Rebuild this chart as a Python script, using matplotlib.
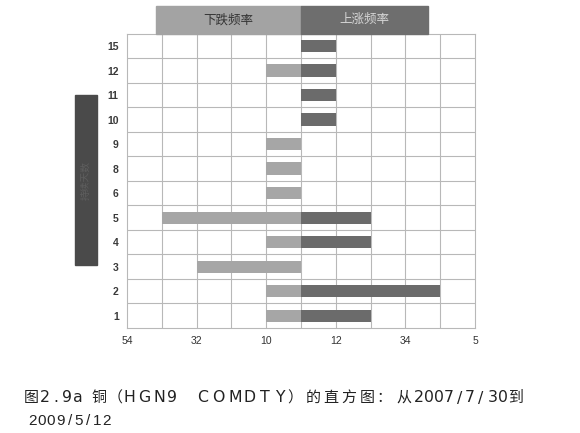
import matplotlib
matplotlib.use("Agg")
import matplotlib.pyplot as plt
import matplotlib.transforms as mtransforms
from matplotlib.patches import Rectangle

plt.rcParams['font.family'] = ['Noto Sans CJK SC', 'DejaVu Sans']

categories = ['1', '2', '3', '4', '5', '6', '8', '9', '10', '11', '12', '15']
down_freq = [1, 1, 3, 1, 4, 1, 1, 1, 0, 0, 1, 0]
up_freq = [2, 4, 0, 2, 2, 0, 0, 0, 1, 1, 1, 1]
xtick_pos = [-5, -3, -1, 1, 3, 5]
xtick_labels = ['54', '32', '10', '12', '34', '5']
header_left = '下跌频率'
header_right = '上涨频率'
side_label = '持续天数'
caption_line1 = '图2.9a 铜（HGN9 COMDTY）的直方图：从2007/7/30到'
caption_line2 = '2009/5/12'

# letter-spaced typesetting of the caption (pixel centres of glyphs)
line1_centres = [31, 45, 56, 67, 78, None, 98.5, 115, 129, 144, 159,
                 172, None, 203, 218.5, 235, 250, 265, 280, 295, 313,
                 331, 349, 367, 384, 404, 418.5, 428.5, 438.5, 449, 459.5,
                 470, 481, 492.5, 503, 516]
line2_centres = [32.5 + 9.3 * i for i in range(len(caption_line2))]

c_down = '#a6a6a6'
c_up = '#6b6b6b'
c_grid = '#b8b8b8'

fig = plt.figure(figsize=(5.8, 4.33), dpi=100)
fig.patch.set_facecolor('white')
ax = fig.add_axes([0.219, 0.2425, 0.6, 0.6796])

y = list(range(len(categories)))
ax.barh(y, [-v for v in down_freq], height=0.5, color=c_down, zorder=3)
ax.barh(y, up_freq, height=0.5, color=c_up, zorder=3)

ax.set_xlim(-5, 5)
ax.set_ylim(-0.5, len(categories) - 0.5)
ax.set_xticks(xtick_pos)
ax.set_xticklabels(xtick_labels, fontsize=7.5, color='#333333',
                   family=['Liberation Sans'])
ax.set_yticks(y)
ax.set_yticklabels(categories, fontsize=7.5, color='#3a3a3a',
                   family=['Liberation Sans'], fontweight='bold')
ax.tick_params(length=0, pad=6)
for xv in range(-4, 5):
    ax.axvline(xv, color=c_grid, linewidth=0.8, zorder=0)
for i in range(len(categories) - 1):
    ax.axhline(i + 0.5, color=c_grid, linewidth=0.8, zorder=0)
for s in ax.spines.values():
    s.set_color(c_grid)
    s.set_linewidth(0.8)

# header bands
trans = mtransforms.blended_transform_factory(ax.transData, ax.transAxes)
ax.add_patch(Rectangle((-4.17, 1.0), 4.17, 0.094, transform=trans,
                       color='#a3a3a3', clip_on=False, zorder=4))
ax.add_patch(Rectangle((0, 1.0), 3.65, 0.094, transform=trans,
                       color='#6e6e6e', clip_on=False, zorder=4))
ax.text(-2.08, 1.047, header_left, transform=trans, ha='center', va='center',
        fontsize=9, color='#333333', zorder=5)
ax.text(1.82, 1.047, header_right, transform=trans, ha='center', va='center',
        fontsize=9, color='#d6d6d6', zorder=5)

# left side dark bar with vertical label
fig.patches.append(Rectangle((75 / 580, 1 - 265 / 433), 22 / 580, 170 / 433,
                             transform=fig.transFigure, color='#4a4a4a',
                             zorder=1))
fig.text(86 / 580, 1 - 180 / 433, side_label, rotation=90, ha='center',
         va='center', fontsize=7, color='#5e5e5e')


def is_cjk(ch):
    return ord(ch) > 0x2E80


# caption line 1, glyph by glyph
for ch, cx in zip(caption_line1, line1_centres):
    if ch == ' ' or cx is None:
        continue
    if is_cjk(ch):
        fig.text(cx / 580, 1 - 398 / 433, ch, fontsize=10.8,
                 color='#222222', va='center', ha='center',
                 family=['Noto Sans CJK SC'])
    else:
        fig.text(cx / 580, 1 - 398 / 433, ch, fontsize=11.3,
                 color='#222222', va='center', ha='center',
                 family=['DejaVu Sans'])

for ch, cx in zip(caption_line2, line2_centres):
    fig.text(cx / 580, 1 - 421 / 433, ch, fontsize=11,
             color='#222222', va='center', ha='center',
             family=['Liberation Sans'])

fig.savefig('out.png', dpi=100, facecolor='white')
